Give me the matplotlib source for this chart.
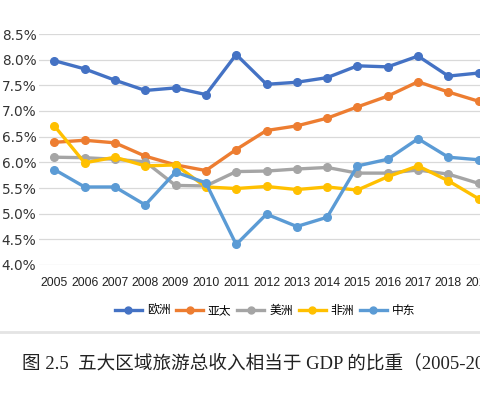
import matplotlib
matplotlib.use("Agg")
import matplotlib.pyplot as plt
from matplotlib.ticker import FuncFormatter
from matplotlib.lines import Line2D

years = list(range(2005, 2020))
series_names = ["欧洲", "亚太", "美洲", "非洲", "中东"]
europe = [7.98, 7.82, 7.60, 7.40, 7.45, 7.32, 8.10, 7.52, 7.56, 7.65, 7.88, 7.86, 8.07, 7.68, 7.74]
asia_pacific = [6.39, 6.43, 6.38, 6.12, 5.95, 5.84, 6.25, 6.62, 6.71, 6.86, 7.08, 7.29, 7.57, 7.37, 7.19]
americas = [6.10, 6.09, 6.06, 6.01, 5.55, 5.54, 5.82, 5.83, 5.87, 5.90, 5.79, 5.79, 5.85, 5.77, 5.59]
africa = [6.71, 5.99, 6.10, 5.93, 5.95, 5.52, 5.49, 5.53, 5.47, 5.52, 5.46, 5.72, 5.93, 5.64, 5.29]
middle_east = [5.86, 5.52, 5.52, 5.17, 5.81, 5.60, 4.40, 4.99, 4.75, 4.93, 5.93, 6.06, 6.46, 6.10, 6.05]
y_ticks = [4.0, 4.5, 5.0, 5.5, 6.0, 6.5, 7.0, 7.5, 8.0, 8.5]
caption = "图 2.5  五大区域旅游总收入相当于 GDP 的比重（2005-2019）"

colors = ["#4472C4", "#ED7D31", "#A5A5A5", "#FFC000", "#5B9BD5"]
data = [europe, asia_pacific, americas, africa, middle_east]

W, H = 481, 396
fig = plt.figure(figsize=(W / 100, H / 100), dpi=100)
fig.patch.set_facecolor("white")

left_px, right_px, top_px, bottom_px = 39.2, 493.8, 34, 265
ax = fig.add_axes([left_px / W, (H - bottom_px) / H,
                   (right_px - left_px) / W, (bottom_px - top_px) / H])

for vals, c, name in zip(data, colors, series_names):
    ax.plot(years, vals, color=c, lw=2.4, marker="o", ms=5.5,
            label=name, clip_on=False, zorder=3)

ax.set_xlim(2004.5, 2019.5)
ax.set_ylim(4.0, 8.5)
ax.set_yticks(y_ticks)
ax.yaxis.set_major_formatter(FuncFormatter(lambda v, p: f"{v:.1f}%"))
ax.set_xticks(years)
ax.set_xticklabels([str(y) for y in years], family="Liberation Sans", fontsize=8.8)
for lab in ax.get_yticklabels():
    lab.set_fontsize(9.8)
    lab.set_color("#333333")
for lab in ax.get_xticklabels():
    lab.set_color("#222222")
ax.tick_params(axis="y", length=0, pad=2)
ax.tick_params(axis="x", length=0, pad=9)
ax.grid(axis="y", color="#d9d9d9", lw=0.9)
ax.set_axisbelow(True)
for s in ax.spines.values():
    s.set_visible(False)

handles = [Line2D([0], [0], color=c, lw=2.4, marker="o", ms=5) for c in colors]
fig.legend(handles, series_names, loc="center", bbox_to_anchor=(265 / W, (H - 311) / H),
           ncol=5, frameon=False,
           prop={"family": ["Liberation Serif", "Noto Sans CJK SC"], "size": 8.5},
           handlelength=2.3, handletextpad=0.4, columnspacing=0.5)

fig.add_artist(Line2D([0, 1], [(H - 332) / H] * 2, color="#e4e4e4", lw=2,
                      transform=fig.transFigure))

fig.text(22.5 / W, (H - 363) / H, caption, ha="left", va="center",
         fontsize=13.4, family=["Liberation Serif", "Noto Sans CJK SC"], color="#222222")

fig.savefig("out.png", dpi=100, facecolor="white")
